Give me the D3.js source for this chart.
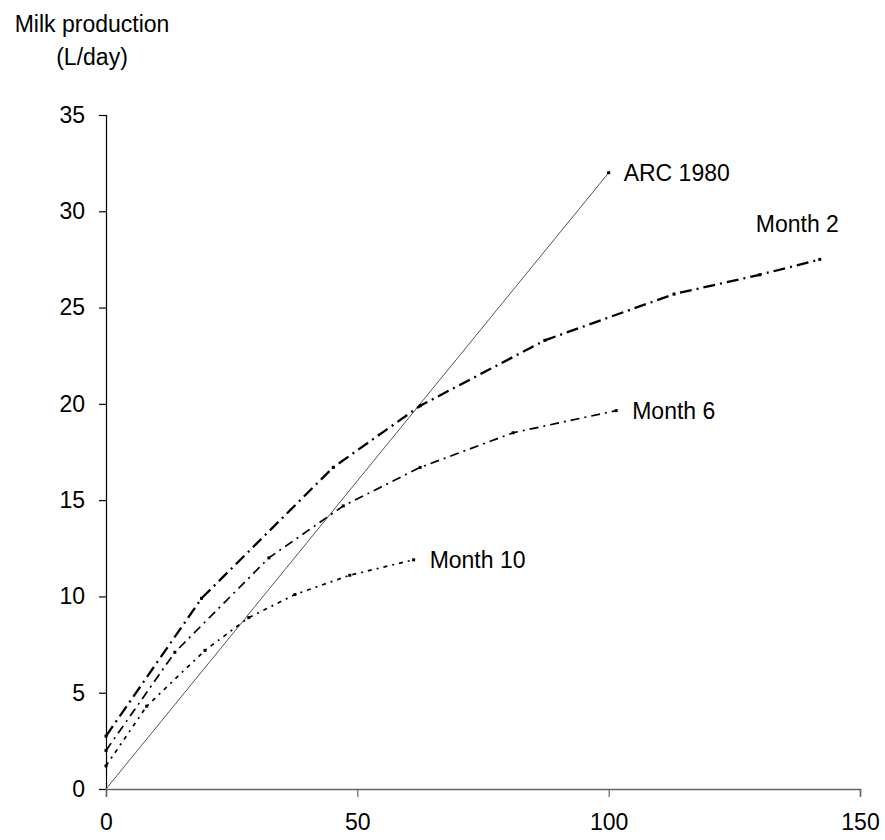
<!DOCTYPE html>
<html>
<head>
<meta charset="utf-8">
<script src="https://cdn.jsdelivr.net/npm/d3@7"></script>
<style>
  body { margin: 0; background: #fff; }
  svg text { font-family: 'Liberation Sans', Arial, sans-serif; fill: #000; }
</style>
</head>
<body>
<svg id="fig_milk" width="885" height="840"></svg>
<script>
'use strict';

// series: [x, milk L/day]
const arc1980 = [[0, 0], [100, 32]];
const month2 = [[0, 2.75], [19, 9.9], [45.2, 16.7], [62.5, 19.9], [87.3, 23.3], [113, 25.7], [130, 26.7], [142, 27.5]];
const month6 = [[0, 2.0], [13.7, 7.1], [32.4, 12.0], [47.2, 14.7], [62.5, 16.7], [81, 18.5], [101.5, 19.65]];
const month10 = [[0, 1.2], [8.1, 4.3], [19.7, 7.2], [28.4, 8.9], [37.6, 10.1], [48.5, 11.1], [61.2, 11.9]];

const x_ticks = [0, 50, 100, 150];
const y_ticks = [0, 5, 10, 15, 20, 25, 30, 35];

const series = [
    { name: 'ARC 1980', pts: arc1980, width: 1, color: '#555', dash: null, dx: 15, dy: 0 },
    { name: 'Month 2', pts: month2, width: 2.3, color: '#000', dash: '12,5,2,5', dx: -64, dy: -35 },
    { name: 'Month 6', pts: month6, width: 1.7, color: '#000', dash: '9,5,2,5', dx: 16, dy: 0 },
    { name: 'Month 10', pts: month10, width: 1.7, color: '#000', dash: '4,5,2,5', dx: 16, dy: 0 }
];

const svg = d3.select('#fig_milk');
const font_size = 23;

const x = d3.scaleLinear().domain([0, 150]).range([106, 860]);
const y = d3.scaleLinear().domain([0, 35]).range([789, 115]);

// y axis
const g_y = svg.append('g')
    .attr('transform', 'translate(' + x(0) + ',0)')
    .call(d3.axisLeft(y).tickValues(y_ticks).tickSize(7).tickPadding(14));
g_y.select('.domain').attr('stroke', '#000').attr('stroke-width', 1.2);
g_y.selectAll('.tick line').attr('stroke', '#000').attr('stroke-width', 1.2);
g_y.selectAll('.tick text')
    .attr('font-size', font_size)
    .attr('font-family', "'Liberation Sans', Arial, sans-serif")
    .attr('fill', '#000');

// x axis
const g_x = svg.append('g')
    .attr('transform', 'translate(0,' + y(0) + ')')
    .call(d3.axisBottom(x).tickValues(x_ticks).tickSize(8).tickPadding(17));
g_x.select('.domain').attr('stroke', '#666').attr('stroke-width', 1.6);
g_x.selectAll('.tick line').attr('stroke', '#666').attr('stroke-width', 1.2);
g_x.selectAll('.tick text')
    .attr('font-size', font_size)
    .attr('font-family', "'Liberation Sans', Arial, sans-serif")
    .attr('fill', '#000');

// axis title
const title = svg.append('text')
    .attr('text-anchor', 'middle')
    .attr('font-size', font_size);
title.append('tspan').attr('x', 92).attr('y', 32).text('Milk production');
title.append('tspan').attr('x', 92).attr('y', 65).text('(L/day)');

// lines
const line = d3.line()
    .x(function(d) { return x(d[0]); })
    .y(function(d) { return y(d[1]); });

series.forEach(function(s) {
    svg.append('path')
        .datum(s.pts)
        .attr('fill', 'none')
        .attr('stroke', s.color)
        .attr('stroke-width', s.width)
        .attr('stroke-dasharray', s.dash)
        .attr('d', line);

    // small point markers
    svg.selectAll(null)
        .data(s.name == 'ARC 1980' ? s.pts.slice(1) : s.pts)
        .enter()
        .append('rect')
        .attr('x', function(d) { return x(d[0]) - 1.5; })
        .attr('y', function(d) { return y(d[1]) - 1.5; })
        .attr('width', 3)
        .attr('height', 3)
        .attr('fill', '#000');

    const last = s.pts[s.pts.length - 1];
    svg.append('text')
        .attr('x', x(last[0]) + s.dx)
        .attr('y', y(last[1]) + s.dy)
        .attr('dy', '0.35em')
        .attr('font-size', font_size)
        .text(s.name);
});
</script>
</body>
</html>
